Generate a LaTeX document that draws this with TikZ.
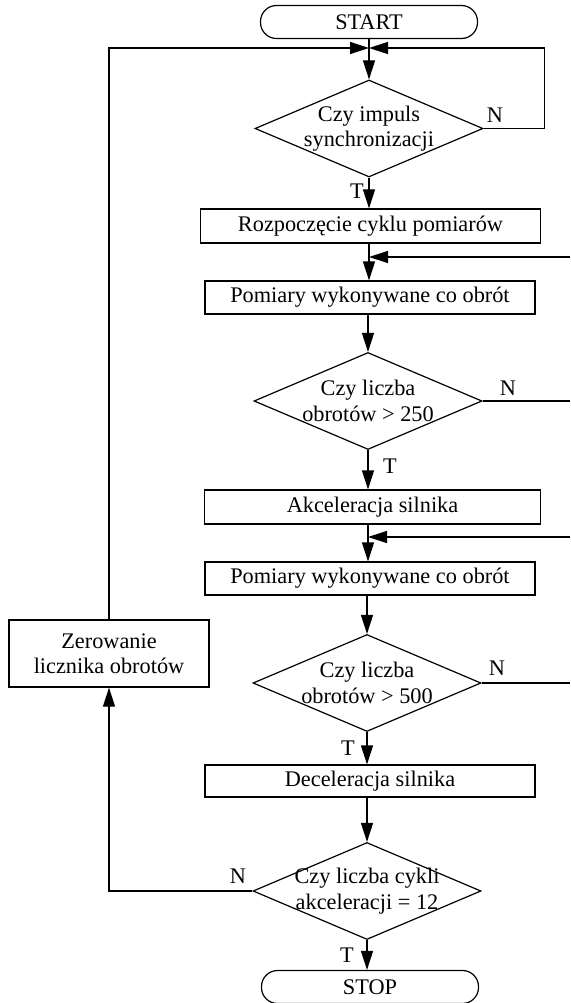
\documentclass[tikz,border=0pt]{standalone}
\usepackage{fontspec}
\setmainfont{Liberation Serif}
\usetikzlibrary{shapes.geometric,arrows.meta}
\begin{document}
\begin{tikzpicture}[x=1pt,y=-1pt,
  every node/.style={font=\fontsize{22.3}{25.5}\selectfont},
  line width=1.2pt,
  proc/.style={draw, rectangle, minimum height=34pt, inner sep=0pt},
  term/.style={draw, rectangle, rounded corners=16pt, minimum width=217pt, minimum height=33pt, inner sep=0pt},
  dec/.style={draw, diamond, minimum width=228pt, minimum height=97pt, inner sep=0pt},
  lbl/.style={inner sep=0pt, align=center},
  arr/.style={-{Triangle[length=19pt,width=12pt]}},
]
\useasboundingbox (0,0) rectangle (570,1003);

\node[term] (start) at (369,22) {START};
\coordinate (j) at (369,48);
\node[dec, label={[lbl]center:Czy impuls\\synchronizacji}] (d1) at (369,128.5) {};
\node[proc, minimum width=340pt] (b1) at (370.5,226) {Rozpoczęcie cyklu pomiarów};
\node[proc, minimum width=330pt, minimum height=33pt] (b2) at (370,297.5) {Pomiary wykonywane co obrót};
\node[dec, label={[lbl]center:Czy liczba\\obrotów > 250}] (d2) at (368,401) {};
\node[proc, minimum width=336pt] (b3) at (372.5,507) {Akceleracja silnika};
\node[proc, minimum width=330pt, minimum height=33pt] (b4) at (370,578.5) {Pomiary wykonywane co obrót};
\node[dec, label={[lbl]center:Czy liczba\\obrotów > 500}] (d3) at (367,683) {};
\node[proc, minimum width=330pt, minimum height=32pt] (b5) at (370,781) {Deceleracja silnika};
\node[dec, label={[lbl]center:Czy liczba cykli\\akceleracji = 12}] (d4) at (367,891) {};
\node[term] (stop) at (370,987) {STOP};
\node[proc, minimum width=200pt, minimum height=67pt, align=center] (z) at (109,653.5) {Zerowanie\\licznika obrotów};

\coordinate (f1) at (570,257);
\coordinate (f2) at (570,537);

% labels
\node[lbl] (n1) at (495,115) {N};
\node[lbl] (t1) at (357,191) {T};
\node[lbl] (n2) at (508,388) {N};
\node[lbl] (t2) at (390,466) {T};
\node[lbl] (n3) at (497,668) {N};
\node[lbl] (t3) at (348,748) {T};
\node[lbl] (n4) at (238,876) {N};
\node[lbl] (t4) at (347,955) {T};

% connectors
\draw (start.south) -- (j);
\draw[arr] (j) -- (d1.north);
\draw[arr] (d1.east) -- ++(61,0) |- (j);
\draw[arr] (d1.south) -- (d1.south |- b1.north);
\draw[arr] (b1.south -| d1.south) -- (d1.south |- b2.north);
\draw[arr] (f1) -- (f1 -| j);
\draw[arr] (b2.south -| d2.north) -- (d2.north);
\draw (d2.east) -- (d2.east -| f1);
\draw[arr] (d2.south) -- (d2.south |- b3.north);
\draw[arr] (b3.south -| d2.south) -- (d2.south |- b4.north);
\draw[arr] (f2) -- (f2 -| d2.north);
\draw[arr] (b4.south -| d3.north) -- (d3.north);
\draw (d3.east) -- (d3.east -| f2);
\draw[arr] (d3.south) -- (d3.south |- b5.north);
\draw[arr] (b5.south -| d4.north) -- (d4.north);
\draw[arr] (d4.south) -- (d4.south |- stop.north);
\draw[arr] (d4.west) -| (z.south);
\draw[arr] (z.north) |- (j);
\end{tikzpicture}
\end{document}
